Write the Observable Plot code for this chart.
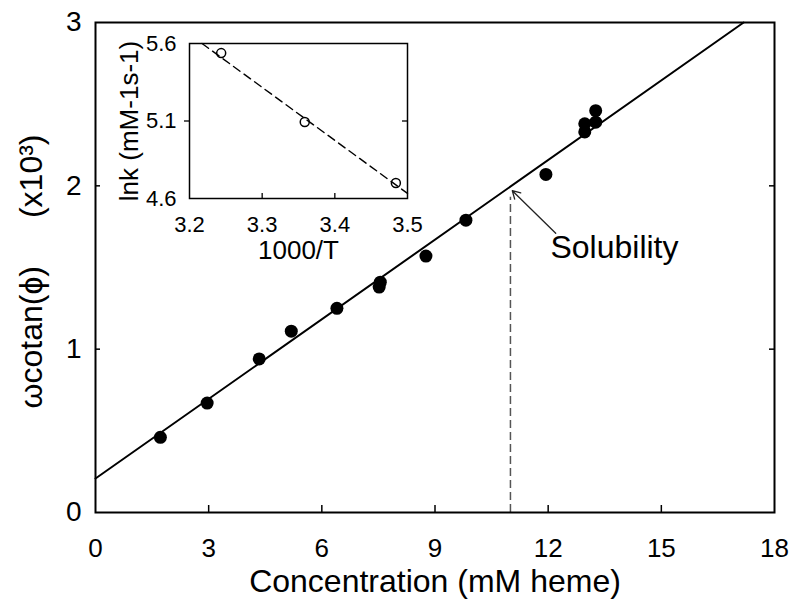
<!DOCTYPE html>
<html><head><meta charset="utf-8">
<script src="https://cdn.jsdelivr.net/npm/d3@7"></script>
<script src="https://cdn.jsdelivr.net/npm/@observablehq/plot@0.6"></script>
<style>
body{margin:0;background:#fff;}
#wrap{position:relative;width:800px;height:604px;overflow:hidden;}
#main{position:absolute;left:0;top:0;}
#inset{position:absolute;left:100px;top:30px;}
svg{font-family:"Liberation Sans",Arial,sans-serif;}
</style></head><body>
<div id="wrap"><div id="main"></div><div id="inset"></div></div>
<script>
// ---- main data ----
const concentration = [1.72, 2.96, 4.34, 5.19, 6.40, 7.52, 7.55, 8.76, 9.82, 11.94, 12.97, 12.97, 13.26, 13.26];
const omegaCotPhi   = [0.46, 0.67, 0.94, 1.11, 1.25, 1.38, 1.41, 1.57, 1.79, 2.07, 2.33, 2.38, 2.39, 2.46];
const fitIntercept = 0.208;
const fitSlope = 0.1625;
const solubility = 11.0;
const solubilityTop = 1.93;
const xTicks = [0, 3, 6, 9, 12, 15, 18];
const yTicks = [0, 1, 2, 3];
const arrowTail = [12.2, 1.71];
const arrowTip = [11.05, 1.97];
const solubilityLabelPos = [12.06, 1.62];
const xLabel = "Concentration (mM heme)";
const yLabel = "\u03c9cotan(\u03d5)\u2003\u2002(x10\u00b3)";

// ---- inset data ----
const invT = [3.2436, 3.3586, 3.484];
const lnk  = [5.538, 5.093, 4.700];
const insetSlope = -3.42;
const insetAt35 = 4.633;
const insetXTicks = [3.2, 3.3, 3.4, 3.5];
const insetYTicks = [4.6, 5.1, 5.6];
const insetXLabel = "1000/T";
const insetYLabel = "lnk (mM-1s-1)";

const font = '"Liberation Sans", Arial, sans-serif';
const points = concentration.map((x, i) => ({x, y: omegaCotPhi[i]}));
const fitEndX = (3 - fitIntercept) / fitSlope;
const fit = [{x: 0, y: fitIntercept}, {x: fitEndX, y: fitIntercept + fitSlope * fitEndX}];

const main = Plot.plot({
  width: 800, height: 604,
  marginLeft: 95, marginRight: 26, marginTop: 22, marginBottom: 92,
  style: {fontFamily: font, color: "#000", background: "transparent", overflow: "visible"},
  x: {domain: [0, 18]},
  y: {domain: [0, 3]},
  marks: [
    Plot.axisX({ticks: xTicks, tickSize: 0, tickPadding: 26, fontSize: 26, tickFormat: d3.format("d"), label: null}),
    Plot.axisY({ticks: yTicks, tickSize: 0, tickPadding: 14, fontSize: 28, tickFormat: d3.format("d"), label: null}),
    Plot.tickX(xTicks.slice(1, -1), {x: d => d, insetTop: 483, stroke: "#000", strokeWidth: 1.5}),
    Plot.tickY(yTicks.slice(1, -1), {y: d => d, insetRight: 674, stroke: "#000", strokeWidth: 1.5}),
    Plot.tickY(yTicks.slice(1, -1), {y: d => d, insetLeft: 674, stroke: "#000", strokeWidth: 1.5}),
    Plot.ruleX([solubility], {x: d => d, y1: 0, y2: solubilityTop, stroke: "#555", strokeWidth: 1.5, strokeDasharray: "8,4"}),
    Plot.line(fit, {x: "x", y: "y", stroke: "#000", strokeWidth: 2}),
    Plot.dot(points, {x: "x", y: "y", r: 6.5, fill: "#000", stroke: "none"}),
    Plot.arrow([0], {x1: () => arrowTail[0], y1: () => arrowTail[1], x2: () => arrowTip[0], y2: () => arrowTip[1], stroke: "#222", strokeWidth: 1.3, headLength: 10}),
    Plot.text(["Solubility"], {x: () => solubilityLabelPos[0], y: () => solubilityLabelPos[1], text: d => d, textAnchor: "start", fontSize: 32, fill: "#000"}),
    Plot.text([xLabel], {text: d => d, frameAnchor: "bottom", dy: 79, lineAnchor: "bottom", fontSize: 32, fill: "#000"}),
    Plot.text([yLabel], {text: d => d, frameAnchor: "left", dx: -54, dy: 4, rotate: -90, lineAnchor: "bottom", textAnchor: "middle", fontSize: 32, fill: "#000"}),
    Plot.frame({stroke: "#000", strokeWidth: 2})
  ]
});
document.getElementById("main").appendChild(main);

const insetPts = invT.map((x, i) => ({x, y: lnk[i]}));
const insetStartX = 3.5 - (5.6 - insetAt35) / (-insetSlope);
const insetFit = [{x: insetStartX, y: insetAt35 + insetSlope * (insetStartX - 3.5)}, {x: 3.5, y: insetAt35}];

const inset = Plot.plot({
  width: 317, height: 232,
  marginLeft: 89, marginRight: 10, marginTop: 13, marginBottom: 64,
  style: {fontFamily: font, color: "#000", background: "transparent", overflow: "visible"},
  x: {domain: [3.2, 3.5]},
  y: {domain: [4.6, 5.6]},
  marks: [
    Plot.axisX({ticks: insetXTicks, tickSize: 0, tickPadding: 18, fontSize: 22, tickFormat: d3.format(".1f"), label: null}),
    Plot.axisY({ticks: insetYTicks, tickSize: 0, tickPadding: 13, fontSize: 22, tickFormat: d3.format(".1f"), label: null}),
    Plot.axisY({ticks: [5.1], tickSize: 5, tickFormat: () => "", label: null, strokeWidth: 1.3}),
    Plot.tickX(insetXTicks.slice(1, -1), {x: d => d, insetTop: 150, stroke: "#000", strokeWidth: 1.3}),
    Plot.tickY([5.1], {y: d => d, insetLeft: 213, stroke: "#000", strokeWidth: 1.3}),
    Plot.line(insetFit, {x: "x", y: "y", stroke: "#000", strokeWidth: 1.4, strokeDasharray: "8,5"}),
    Plot.dot(insetPts, {x: "x", y: "y", r: 4.5, fill: "none", stroke: "#000", strokeWidth: 1.5}),
    Plot.text([insetXLabel], {text: d => d, frameAnchor: "bottom", dy: 60, lineAnchor: "bottom", fontSize: 26, fill: "#000"}),
    Plot.text([insetYLabel], {text: d => d, frameAnchor: "left", dx: -52, rotate: -90, lineAnchor: "bottom", textAnchor: "middle", fontSize: 26, fill: "#000"}),
    Plot.frame({stroke: "#000", strokeWidth: 1.5})
  ]
});
document.getElementById("inset").appendChild(inset);
</script>
</body></html>
